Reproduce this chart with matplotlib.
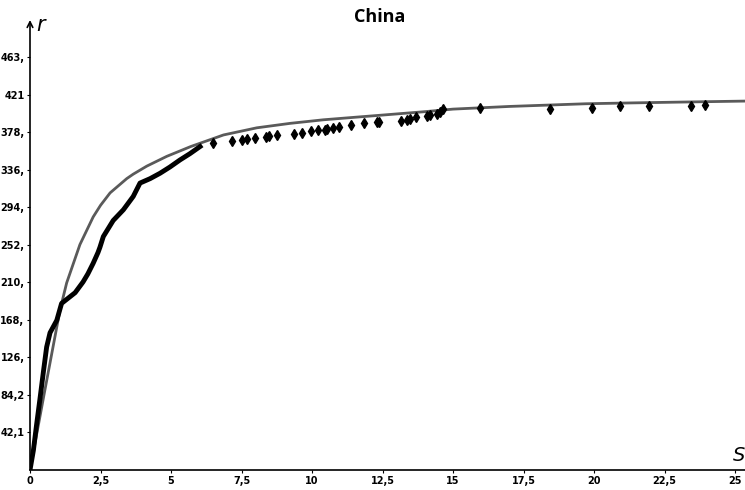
import matplotlib
matplotlib.use("Agg")
import matplotlib.pyplot as plt

# Dense observed data (S, r)
dense_s = [0, 0.12, 0.23, 0.35, 0.47, 0.59, 0.71, 0.83, 0.95, 1.12, 1.36, 1.6, 1.88,
           2.05, 2.24, 2.41, 2.48, 2.6, 2.95, 3.31, 3.66, 3.9, 4.26, 4.61, 4.96, 5.32,
           5.67, 6.03]
dense_r = [0, 22, 50, 79, 109, 138, 154, 161, 168, 187, 193, 199, 211,
           220, 232, 244, 250, 262, 280, 292, 307, 322, 327, 333, 340, 348,
           355, 363]

# Sparse observed data (S, r)
sparse_s = [6.48, 7.17, 7.5, 7.68, 7.98, 8.37, 8.46, 8.75, 9.36, 9.66, 9.95, 10.22,
            10.46, 10.54, 10.73, 10.96, 11.38, 11.84, 12.29, 12.38, 13.15, 13.36,
            13.48, 13.68, 14.07, 14.18, 14.42, 14.54, 14.66, 15.96, 18.42, 19.94,
            20.92, 21.93, 23.44, 23.94]
sparse_r = [367, 369, 370, 372, 373, 374, 375, 376, 377, 378, 380, 381,
            382, 383, 384, 385, 387, 389, 390, 390, 392, 393,
            394, 396, 397, 398, 399, 402, 405, 406, 405, 406,
            408, 408, 409, 410]

# Fitted curve (S, r)
fit_s = [0, 0.5, 1.06, 1.3, 1.77, 2.24, 2.5, 2.84, 3.43, 3.66, 4.14, 4.85, 5.7, 6.86,
         8.04, 9.22, 10.4, 11.58, 12.77, 13.95, 15.0, 17.0, 19.7, 21.4, 23.3, 25.35]
fit_r = [0, 85, 179, 210, 253, 284, 297, 311, 327, 332, 341, 352, 363, 376,
         384, 389, 393, 396, 399, 402, 405, 408, 411, 412, 413, 414]

x_ticks = [0, 2.5, 5, 7.5, 10, 12.5, 15, 17.5, 20, 22.5, 25]
x_labels = ["0", "2,5", "5", "7,5", "10", "12,5", "15", "17,5", "20", "22,5", "25"]
y_ticks = [42.1, 84.2, 126.3, 168.4, 210.5, 252.6, 294.7, 336.8, 378.9, 421.0, 463.1]
y_labels = ["42,1", "84,2", "126,", "168,", "210,", "252,", "294,", "336,", "378,", "421", "463,"]

W, H = 745, 490
fig = plt.figure(figsize=(W / 100, H / 100), dpi=100)
ax = fig.add_axes([30 / W, 20 / H, 1 - 30 / W, 450 / H])
ax.set_xlim(0, 25.35)
ax.set_ylim(0, 505)

ax.plot(fit_s, fit_r, color="#5a5a5a", lw=2.0, zorder=2)
ax.plot(dense_s, dense_r, color="black", lw=3.5, zorder=3, solid_joinstyle="round")
ax.plot(sparse_s, sparse_r, linestyle="none", marker="d", markersize=5,
        color="black", zorder=3)

for s in ["top", "right", "left"]:
    ax.spines[s].set_visible(False)
ax.spines["bottom"].set_linewidth(1.2)

ax.annotate("", xy=(0, 1.0), xycoords="axes fraction", xytext=(0, 0),
            textcoords="axes fraction",
            arrowprops=dict(arrowstyle="->", lw=1.2, color="black",
                            shrinkA=0, shrinkB=0, mutation_scale=10))

ax.set_xticks(x_ticks)
ax.set_xticklabels(x_labels)
ax.set_yticks(y_ticks)
ax.set_yticklabels(y_labels)
ax.tick_params(axis="both", length=2, width=0.8, pad=2, labelsize=7)
for lab in ax.get_xticklabels() + ax.get_yticklabels():
    lab.set_fontweight("bold")
    lab.set_family(["Liberation Sans Narrow", "DejaVu Sans"])

fig.text(380 / W, 1 - 17 / H, "China", ha="center", va="center",
         fontsize=13, fontweight="bold", family=["Open Sans", "DejaVu Sans"])
fig.text(36 / W, 1 - 25 / H, "r", ha="left", va="center", fontsize=15,
         style="italic", family=["DejaVu Sans"])
fig.text(733 / W, 1 - 455 / H, "S", ha="left", va="center", fontsize=14,
         style="italic", family=["DejaVu Sans"])

fig.savefig("out.png", dpi=100)
